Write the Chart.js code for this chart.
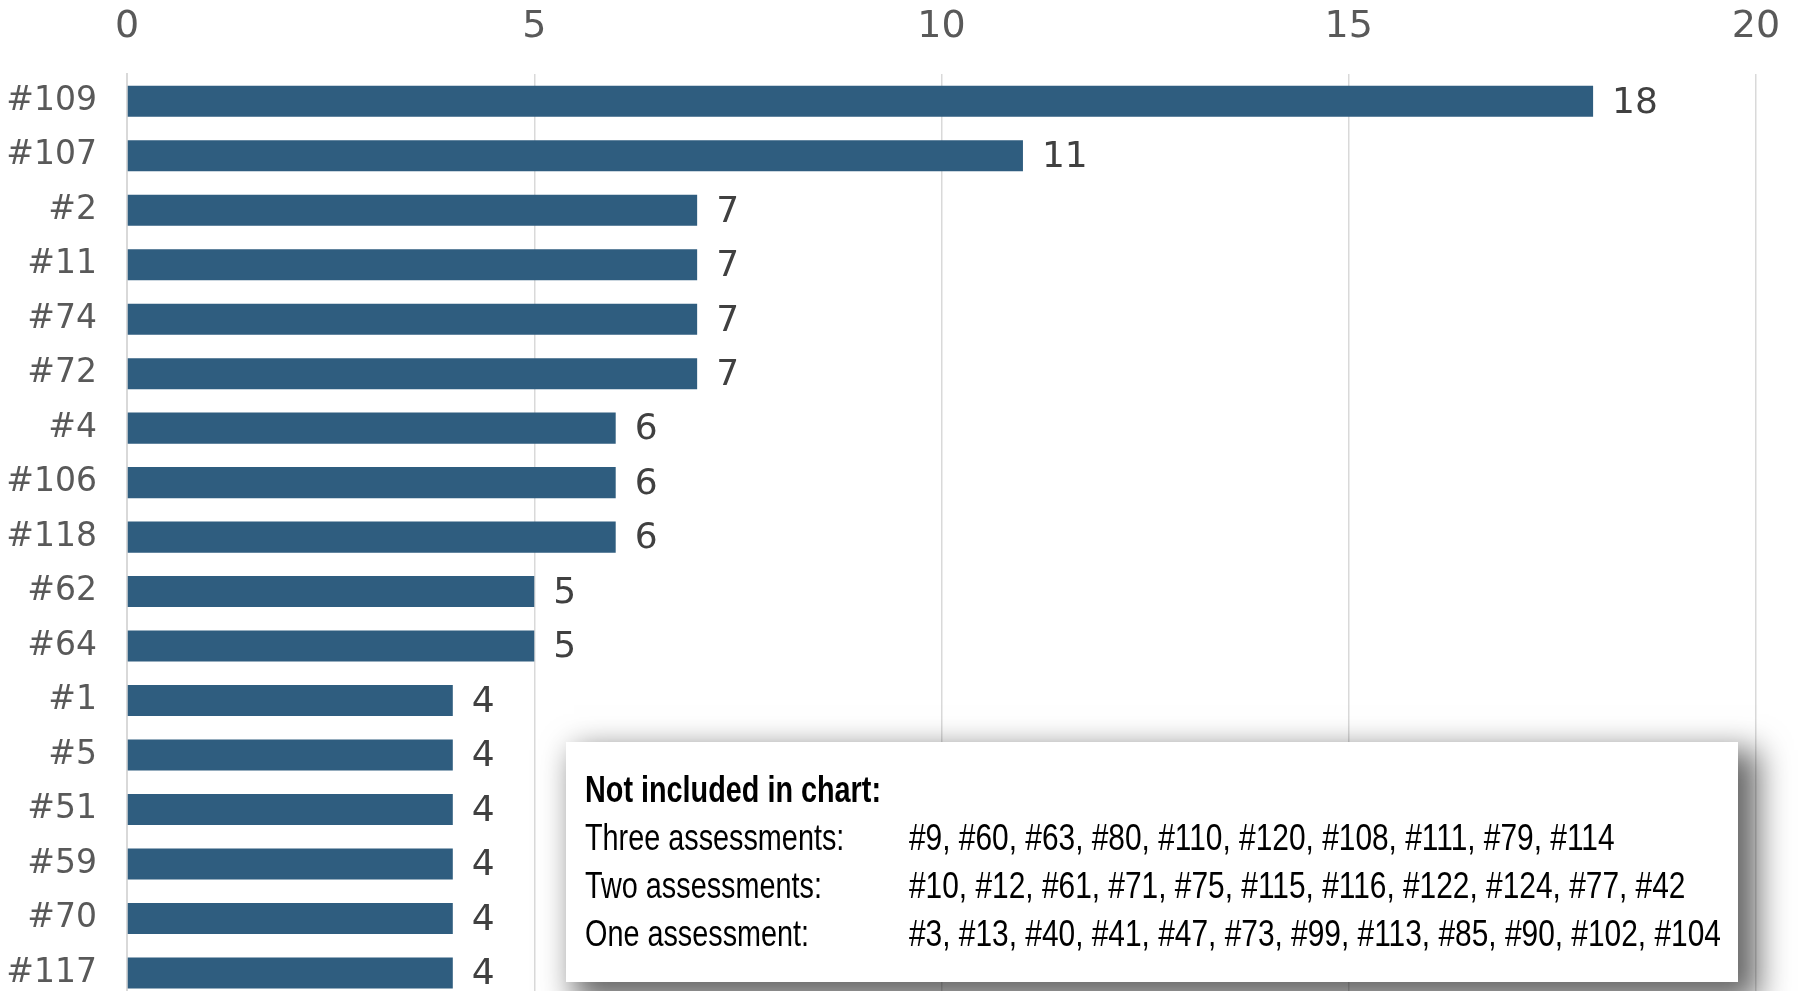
<!DOCTYPE html>
<html>
<head>
<meta charset="utf-8">
<script src="https://cdn.jsdelivr.net/npm/chart.js@4/dist/chart.umd.min.js"></script>
<style>
    html, body { margin: 0; padding: 0; background: #fff; overflow: hidden; }
    #wrap { position: relative; width: 1798px; height: 1050px; }
    #note {
        position: absolute; left: 566px; top: 742px; width: 1172px; height: 240px;
        background: #fff; box-shadow: 14px 14px 30px 6px rgba(0,0,0,0.6);
        overflow: hidden;
        font-family: "Liberation Sans", Arial, sans-serif;
        font-size: 36px; color: #000;
    }
    #note div { position: absolute; white-space: nowrap; line-height: 48px; transform-origin: 0 0; }
    #note .title { font-weight: bold; }
    #note .lab { transform: scaleX(0.8); }
    #note .val { transform: scaleX(0.83); }
</style>
</head>
<body>
<div id="wrap">
    <canvas id="chart" width="1798" height="1050"></canvas>
    <div id="note"></div>
</div>
<script>
const labels = ['#109', '#107', '#2', '#11', '#74', '#72', '#4', '#106', '#118', '#62', '#64', '#1', '#5', '#51', '#59', '#70', '#117'];
const counts = [18, 11, 7, 7, 7, 7, 6, 6, 6, 5, 5, 4, 4, 4, 4, 4, 4];
const noteTitle = 'Not included in chart:';
const noteLabels = ['Three assessments:', 'Two assessments:', 'One assessment:'];
const noteValues = [
    '#9, #60, #63, #80, #110, #120, #108, #111, #79, #114',
    '#10, #12, #61, #71, #75, #115, #116, #122, #124, #77, #42',
    '#3, #13, #40, #41, #47, #73, #99, #113, #85, #90, #102, #104'
];

// note box
const note = document.getElementById('note');
let html = '<div class="title lab" style="left:19px;top:24px">' + noteTitle + '</div>';
noteLabels.forEach((l, i) => {
    const top = 24 + 48 * (i + 1);
    html += '<div class="lab" style="left:19px;top:' + top + 'px">' + l + '</div>';
    html += '<div class="val" style="left:343px;top:' + top + 'px">' + noteValues[i] + '</div>';
});
note.innerHTML = html;

// value labels at the end of each bar
const valueLabels = {
    id: 'valueLabels',
    afterDatasetsDraw(chart) {
        const ctx = chart.ctx;
        const meta = chart.getDatasetMeta(0);
        ctx.save();
        ctx.font = '36px "DejaVu Sans"';
        ctx.fillStyle = '#404040';
        ctx.textBaseline = 'middle';
        ctx.textAlign = 'left';
        meta.data.forEach((bar, i) => {
            ctx.fillText(counts[i], bar.x + 19, bar.y + 2);
        });
        ctx.restore();
    }
};

const ctx = document.getElementById('chart').getContext('2d');
new Chart(ctx, {
    type: 'bar',
    data: {
        labels: labels,
        datasets: [{
            data: counts,
            backgroundColor: '#2f5d7f',
            categoryPercentage: 1,
            barPercentage: 0.57
        }]
    },
    options: {
        indexAxis: 'y',
        responsive: false,
        animation: false,
        layout: { padding: { left: 0, right: 42, top: 0, bottom: 0 } },
        plugins: {
            legend: { display: false },
            tooltip: { enabled: false }
        },
        scales: {
            x: {
                position: 'top',
                min: 0,
                max: 20,
                ticks: {
                    stepSize: 5,
                    padding: 24,
                    color: '#595959',
                    font: { family: 'DejaVu Sans', size: 38 }
                },
                grid: { color: '#d9d9d9', lineWidth: 1.5, drawTicks: false },
                border: { display: false },
                afterFit(scale) {
                    scale.height = 74;
                    scale.paddingLeft = 0;
                    scale.paddingRight = 0;
                }
            },
            y: {
                ticks: {
                    padding: 30,
                    color: '#595959',
                    font: { family: 'DejaVu Sans', size: 33 }
                },
                grid: { display: false, drawTicks: false },
                border: { display: true, color: '#d9d9d9', width: 2 },
                afterFit(scale) { scale.width = 127; }
            }
        }
    },
    plugins: [valueLabels]
});
</script>
</body>
</html>
